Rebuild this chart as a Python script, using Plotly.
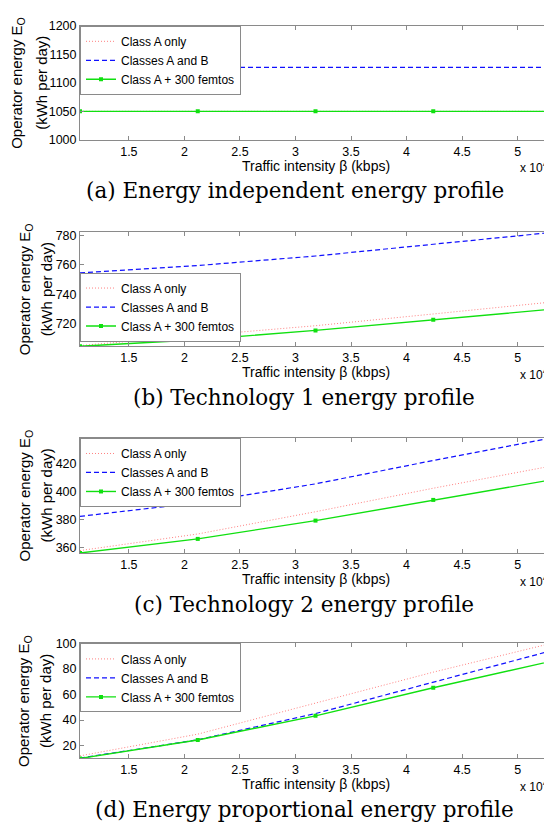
"""Operator energy vs traffic intensity for four energy profiles (a)-(d)."""

import plotly.graph_objects as go

# the page body keeps its default 8px margin, so the figure is drawn 8px in
OFF = 8
W, H = 552 - OFF, 830 - OFF

# traffic intensity (kbps), same sample points for every curve
traffic_kbps = [10600, 21200, 31800, 42400, 53000]

# (a) energy independent profile
a_class_a = [1050, 1050, 1050, 1050, 1050]
a_classes_ab = [1127, 1127, 1127, 1127, 1127]
a_femtos = [1050, 1050, 1050, 1050, 1050]

# (b) technology 1
b_class_a = [705.0, 711.5, 718.5, 726.5, 734.6]
b_classes_ab = [754.5, 759.5, 766.0, 774.0, 782.0]
b_femtos = [704.5, 708.9, 715.3, 722.5, 729.7]

# (c) technology 2
c_class_a = [358.0, 369.8, 385.6, 402.3, 418.0]
c_classes_ab = [382.3, 392.0, 405.4, 422.0, 438.0]
c_femtos = [356.3, 366.3, 379.3, 394.0, 408.2]

# (d) energy proportional
d_class_a = [12.0, 29.0, 53.3, 77.5, 100.0]
d_classes_ab = [10.2, 24.6, 45.1, 69.6, 94.2]
d_femtos = [10.0, 24.4, 43.3, 65.3, 86.0]

series_names = ["Class A only", "Classes A and B", "Class A + 300 femtos"]
panels = [
    (a_class_a, a_classes_ab, a_femtos),
    (b_class_a, b_classes_ab, b_femtos),
    (c_class_a, c_classes_ab, c_femtos),
    (d_class_a, d_classes_ab, d_femtos),
]
captions = [
    "(a) Energy independent energy profile",
    "(b) Technology 1 energy profile",
    "(c) Technology 2 energy profile",
    "(d) Energy proportional energy profile",
]
x_tickvals = [15000, 20000, 25000, 30000, 35000, 40000, 45000, 50000]
x_ticktext = ["1.5", "2", "2.5", "3", "3.5", "4", "4.5", "5"]
y_ranges = [[1000, 1200], [704.5, 782.2], [356.3, 438.0], [10, 100]]
y_tickvals = [
    [1000, 1050, 1100, 1150, 1200],
    [720, 740, 760, 780],
    [360, 380, 400, 420],
    [20, 40, 60, 80, 100],
]

# pixel layout (window coordinates) of the four plot boxes
left, right = 80, 551
tops = [19, 229, 438.3, 647.3]
bottoms = [135, 345, 555.3, 764.3]
legend_tops = [19, 270, 438.3, 647.3]
ylab_x = [(18, 42), (25, 46), (25, 46), (25, 46)]
caption_x = [295, 304, 304, 304]

SANS = "Liberation Sans"
SERIF = "DejaVu Serif"
GREY = "#8a8a8a"


def px(x):
    return (x - OFF) / W


def py(y):
    return 1 - (y - OFF) / H


styles = [
    dict(mode="lines", line=dict(color="#ff8080", width=1, dash="1px,2px")),
    dict(mode="lines", line=dict(color="#1010ff", width=1.2, dash="5px,3px")),
    dict(mode="lines+markers", line=dict(color="#10e010", width=1.4),
         marker=dict(symbol="square", size=4, color="#10e010")),
]

fig = go.Figure()
layout = dict(
    width=W, height=H, margin=dict(l=0, r=0, t=0, b=0),
    paper_bgcolor="white", plot_bgcolor="white",
    font=dict(family=SANS, size=12, color="black"),
    annotations=[],
)


def note(text, x, y, size, family=SANS, angle=0, xanchor="center"):
    return dict(text=text, x=px(x), y=py(y), xref="paper", yref="paper",
                xanchor=xanchor, yanchor="middle", textangle=angle,
                showarrow=False, font=dict(family=family, size=size))


for i, series in enumerate(panels):
    n = "" if i == 0 else str(i + 1)
    leg = "legend" + n
    for name, ys, st in zip(series_names, series, styles):
        fig.add_trace(go.Scatter(x=traffic_kbps, y=ys, name=name, xaxis="x" + n,
                                 yaxis="y" + n, legend=leg, **st))
    axis_common = dict(showline=True, linecolor=GREY, linewidth=1, mirror="ticks",
                       ticks="inside", ticklen=4, tickcolor=GREY, showgrid=False,
                       zeroline=False, tickfont=dict(family=SANS, size=12.5, color="black"))
    layout["xaxis" + n] = dict(domain=[px(left), px(right)], anchor="y" + n,
                               range=[10600, 53000], tickvals=x_tickvals,
                               ticktext=x_ticktext, **axis_common)
    layout["yaxis" + n] = dict(domain=[py(bottoms[i]), py(tops[i])], anchor="x" + n,
                               range=y_ranges[i], tickvals=y_tickvals[i], **axis_common)
    layout[leg] = dict(x=px(left), y=py(legend_tops[i]), xanchor="left", yanchor="top",
                       bgcolor="white", bordercolor=GREY, borderwidth=1,
                       font=dict(family=SANS, size=12), itemwidth=30,
                       tracegroupgap=0)

    mid = (tops[i] + bottoms[i]) / 2
    ann = layout["annotations"]
    ann.append(note("Traffic intensity β (kbps)", (left + right) / 2, bottoms[i] + 26.5, 14))
    ann.append(note("x 10<sup>4</sup>", 550, bottoms[i] + 28, 12, xanchor="right"))
    ann.append(note(captions[i], caption_x[i], bottoms[i] + 52, 21.5, family=SERIF))
    ann.append(note("Operator energy E<sub>O</sub>", ylab_x[i][0], mid, 15, angle=-90))
    ann.append(note("(kWh per day)", ylab_x[i][1], mid, 15, angle=-90))

fig.update_layout(**layout)
fig.write_html("out.html")
